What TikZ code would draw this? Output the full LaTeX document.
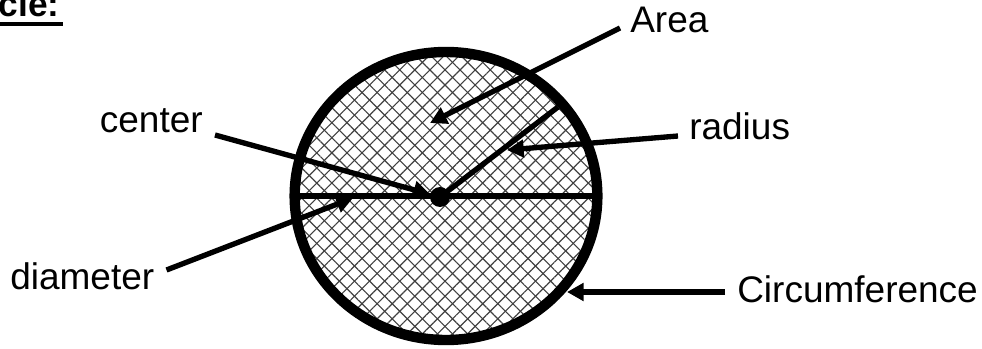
\documentclass[tikz,border=0pt]{standalone}
\usepackage{fontspec}
\setmainfont{Liberation Sans}
\usetikzlibrary{arrows.meta,patterns.meta,shapes.geometric}
\tikzset{
  cir rim/.style={ellipse, draw=black, line width=7.8pt, inner sep=0pt, minimum width=227pt, minimum height=216pt,
    preaction={pattern={Lines[angle=45,distance=8pt,line width=.85pt]}, pattern color=black!75},
    pattern={Lines[angle=-45,distance=8pt,line width=.85pt]}, pattern color=black!75},
  cir line/.style={draw=black, line width=4pt},
  cir arrow/.style={cir line, -{Triangle[length=12.5pt,width=13pt]}},
  cir dot/.style={circle, fill=black, inner sep=0pt, minimum size=15pt},
  cir label/.style={font=\fontsize{27.75}{33}\selectfont, inner sep=0pt},
  cir title/.style={font=\fontsize{26.5}{32}\selectfont\bfseries, inner sep=0pt},
}
\begin{document}
\begin{tikzpicture}[x=0.75pt,y=-0.75pt]
\useasboundingbox (0,0) rectangle (982,349);
% title, cut at the left edge
\node[cir title, anchor=base east] (title) at (60,17) {cle:};
\draw[line width=3pt] ([shift={(0,7)}]title.base west) -- ([shift={(3,7)}]title.base east);
% the circle
\node[cir rim] (rim) at (446,196) {};
\draw[cir line] (rim.west) -- (rim.east);
\node[cir dot] (ctr) at (440,197) {};
\coordinate (radend) at (558,107);
\draw[cir line] (ctr.center) -- (radend);
% labels
\node[cir label, anchor=base west] (area) at (630,33) {Area};
\node[cir label, anchor=base west] (radius) at (689,140) {radius};
\node[cir label, anchor=base east] (center) at (203,133) {center};
\node[cir label, anchor=base west] (diameter) at (10,289) {diameter};
\node[cir label, anchor=base west] (circumf) at (737,302) {Circumference};
% arrow tips
\coordinate (areatip) at (430,123);
\coordinate (radtip) at (507,150);
\coordinate (diamtip) at (353,198);
\coordinate (circtip) at (567,292);
\draw[cir arrow] ([shift={(-10,-5)}]area.base west) -- (areatip);
\draw[cir arrow] ([shift={(-11,-4)}]radius.base west) -- (radtip);
\draw[cir arrow] ([shift={(12,2)}]center.base east) -- (ctr);
\draw[cir arrow] ([shift={(12,-19)}]diameter.base east) -- (diamtip);
\draw[cir arrow] ([shift={(-12,-10)}]circumf.base west) -- (circtip);
\end{tikzpicture}
\end{document}
